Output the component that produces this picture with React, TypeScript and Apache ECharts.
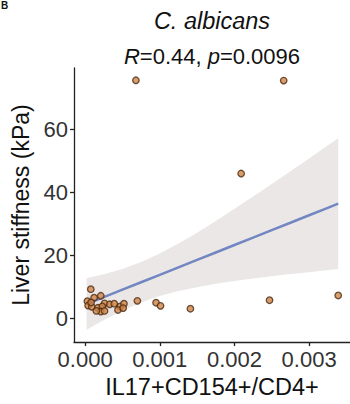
import React, { useEffect, useRef } from "react";
import * as echarts from "echarts";

// Scatter data: IL17+CD154+/CD4+ (x) vs liver stiffness in kPa (y)
const xValues = [
  0.000076, 0.00021, 0.00012, 0.00003, 0.00026, 0.00033, 0.00039, 0.00047, 0.00044,
  0.00004, 0.00009, 0.00017, 0.00023, 0.00021, 0.00026, 0.00015, 0.00008, 0.00052,
  0.00051, 0.0007, 0.00095, 0.00101, 0.00068, 0.00266, 0.00209, 0.00141, 0.00247, 0.00339,
];
const yValues = [
  9.3, 7.2, 6.6, 5.5, 4.8, 4.5, 4.7, 3.8, 2.7,
  4.1, 3.7, 3.4, 3.8, 2.2, 2.4, 2.4, 5.1, 4.7,
  3.3, 5.6, 5.0, 4.0, 75.6, 75.5, 46.0, 3.1, 5.8, 7.3,
];

// Linear fit and its 95% confidence band
const fitX = [0.00002, 0.00025, 0.0005, 0.00075, 0.001, 0.00125, 0.0015, 0.00175, 0.002, 0.00225, 0.0025, 0.00275, 0.003, 0.0032, 0.00339];
const fitY = [4.6, 6.78, 9.14, 11.5, 13.86, 16.22, 18.59, 20.95, 23.31, 25.67, 28.03, 30.39, 32.76, 34.65, 36.44];
const bandLower = [-3.6, -0.5, 2.5, 5.1, 7.1, 8.7, 9.9, 11.0, 11.9, 12.7, 13.4, 14.1, 14.7, 15.2, 15.7];
const bandUpper = [12.8, 14.0, 15.7, 17.9, 20.6, 23.8, 27.2, 30.9, 34.8, 38.7, 42.7, 46.7, 50.8, 54.1, 57.2];

const xTicks = [0, 0.001, 0.002, 0.003];
const yTicks = [0, 20, 40, 60];

const FONT = "Liberation Sans, Arial, sans-serif";

export default function App() {
  const ref = useRef<HTMLDivElement>(null);
  useEffect(() => {
    if (!ref.current) return;
    const chart = echarts.init(ref.current, null, { renderer: "svg" });
    const axisColor = "#222";
    chart.setOption({
      animation: false,
      backgroundColor: "#fff",
      textStyle: { fontFamily: FONT },
      grid: { left: 74, right: 0, top: 68, bottom: 61, containLabel: false },
      xAxis: {
        type: "value",
        min: -0.000149,
        max: 0.003548,
        splitLine: { show: false },
        axisLine: { show: true, onZero: false, lineStyle: { color: axisColor, width: 1.3 } },
        axisTick: { show: true, length: 4, lineStyle: { color: axisColor, width: 1.3 }, customValues: xTicks },
        axisLabel: {
          color: "#333",
          fontSize: 22,
          fontFamily: FONT,
          margin: 6,
          customValues: xTicks,
          formatter: (v: number) => v.toFixed(3),
        },
        name: "IL17+CD154+/CD4+",
        nameLocation: "middle",
        nameGap: 32,
        nameTextStyle: { color: "#111", fontSize: 23.5, fontFamily: FONT },
      },
      yAxis: {
        type: "value",
        min: -7.5,
        max: 79.5,
        splitLine: { show: false },
        axisLine: { show: true, onZero: false, lineStyle: { color: axisColor, width: 1.3 } },
        axisTick: { show: true, length: 4, lineStyle: { color: axisColor, width: 1.3 }, customValues: yTicks },
        axisLabel: {
          color: "#333",
          fontSize: 22,
          fontFamily: FONT,
          margin: 6,
          customValues: yTicks,
        },
        name: "Liver stiffness (kPa)",
        nameLocation: "middle",
        nameGap: 40,
        nameTextStyle: { color: "#111", fontSize: 23, fontFamily: FONT },
      },
      graphic: [
        {
          type: "text",
          left: 1,
          top: 0,
          style: { text: "B", fontSize: 10, fontWeight: "bold", fill: "#111", fontFamily: FONT },
        },
        {
          type: "text",
          x: 212,
          y: 21,
          style: {
            text: "C. albicans",
            fontSize: 23.5,
            fontStyle: "italic",
            fill: "#111",
            fontFamily: FONT,
            align: "center",
            verticalAlign: "middle",
          },
        },
        {
          type: "text",
          x: 212,
          y: 56,
          style: {
            text: "{i|R}=0.44, {i|p}=0.0096",
            fontSize: 22,
            fill: "#111",
            fontFamily: FONT,
            align: "center",
            verticalAlign: "middle",
            rich: {
              i: { fontStyle: "italic", fontSize: 22, fill: "#111", fontFamily: FONT },
            },
          },
        },
      ],
      series: [
        {
          type: "custom",
          data: [[0, 0]],
          silent: true,
          z: 1,
          renderItem: (_params: any, api: any) => {
            const pts: number[][] = [];
            for (let i = 0; i < fitX.length; i++) pts.push(api.coord([fitX[i], bandUpper[i]]));
            for (let i = fitX.length - 1; i >= 0; i--) pts.push(api.coord([fitX[i], bandLower[i]]));
            return { type: "polygon", shape: { points: pts }, style: { fill: "#ebe7e7" } };
          },
        },
        {
          type: "line",
          data: fitX.map((x, i) => [x, fitY[i]]),
          showSymbol: false,
          symbol: "none",
          silent: true,
          z: 2,
          lineStyle: { color: "#7287c2", width: 2.5 },
        },
        {
          type: "scatter",
          data: xValues.map((x, i) => [x, yValues[i]]),
          symbol: "circle",
          symbolSize: 6.5,
          z: 3,
          itemStyle: { color: "#cf8446", borderColor: "#4a2810", borderWidth: 1.3 },
        },
      ],
    });
    return () => chart.dispose();
  }, []);
  return (
    <div
      ref={ref}
      style={{ position: "fixed", left: 0, top: 0, width: 350, height: 404, background: "#fff" }}
    />
  );
}
